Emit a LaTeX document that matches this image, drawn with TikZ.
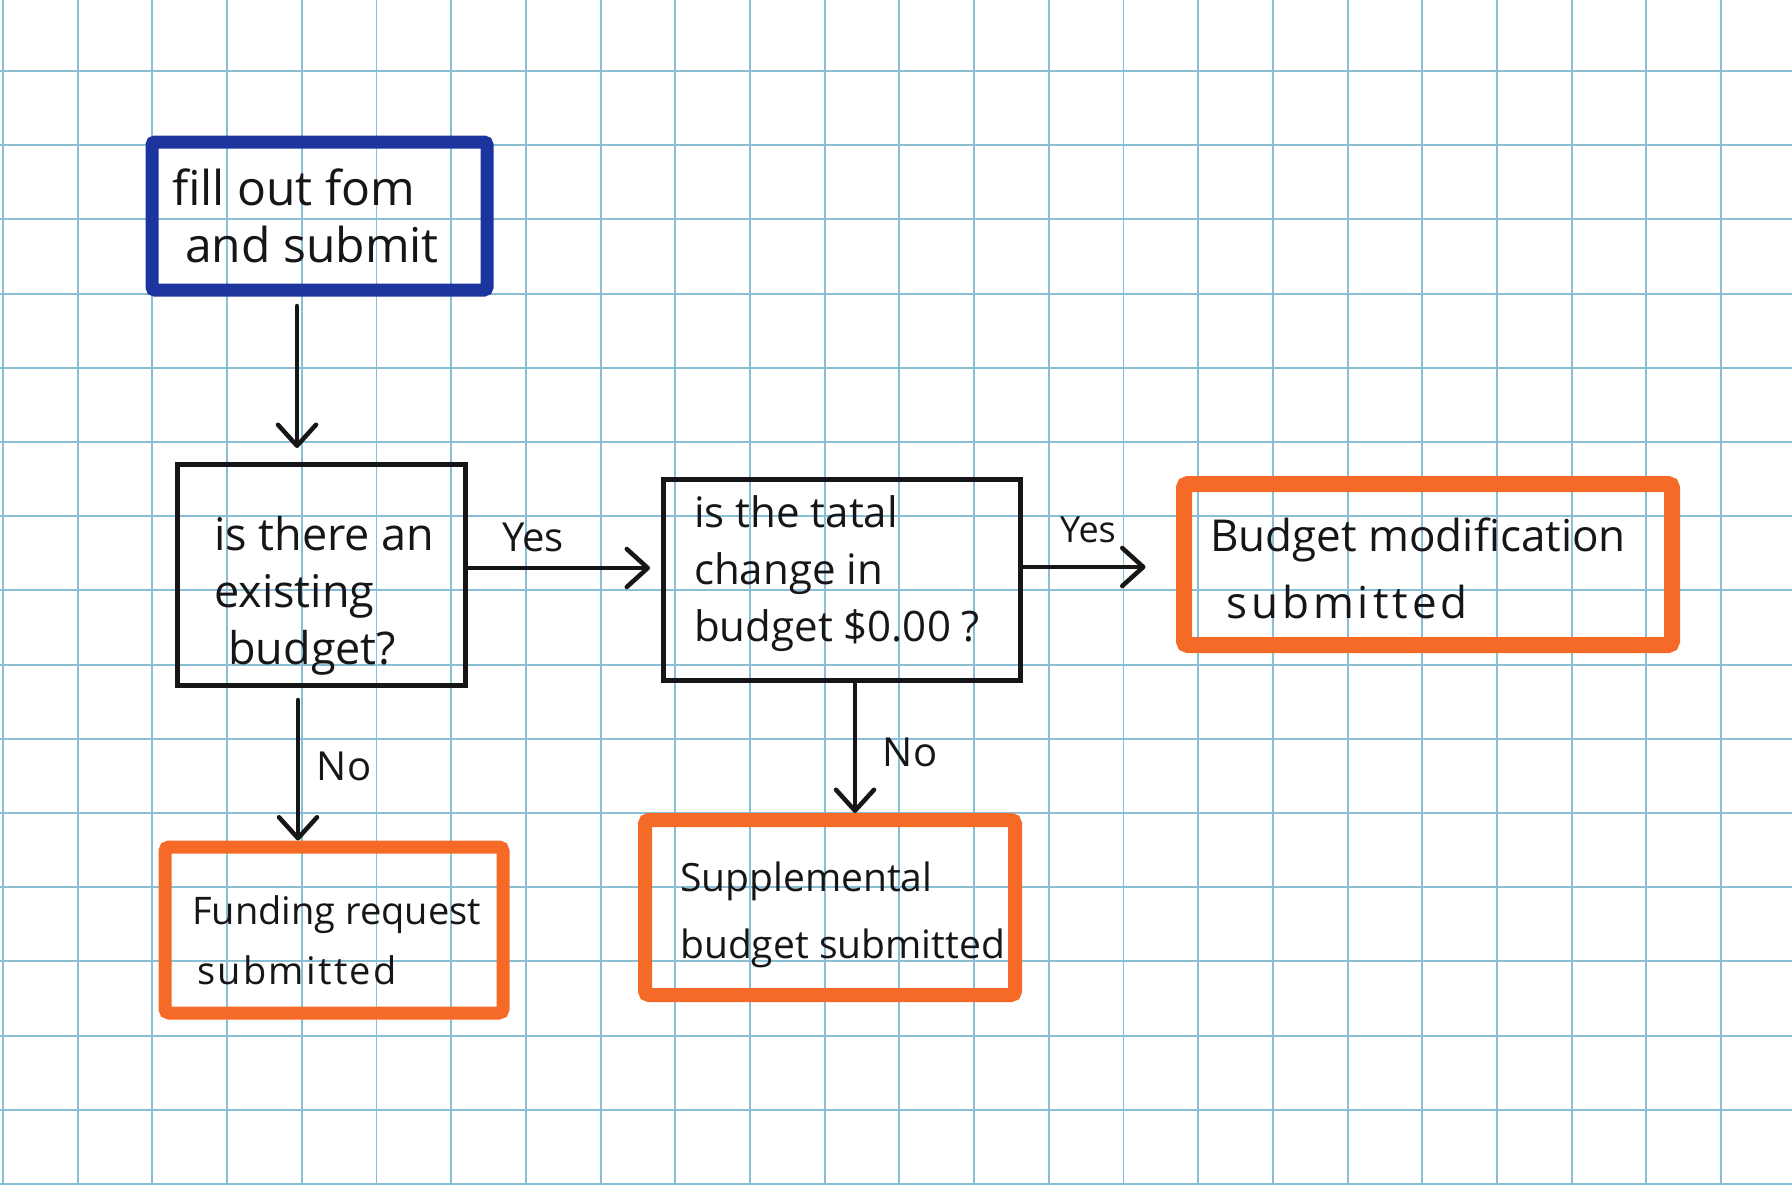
\documentclass[tikz,border=0pt]{standalone}
\usepackage{fontspec}
\setmainfont{Open Sans}
\usetikzlibrary{arrows.meta,calc}
\definecolor{gridblue}{RGB}{136,190,214}
\definecolor{inkblue}{RGB}{28,52,158}
\definecolor{marker}{RGB}{246,106,40}
\definecolor{ink}{RGB}{22,22,22}
\begin{document}
\begin{tikzpicture}[x=1pt,y=-1pt,
  gridline/.style={draw=gridblue,line width=1.9pt},
  startbox/.style={draw=inkblue,line width=13pt,rounded corners=3pt,inner sep=0pt},
  askbox/.style={draw=ink,line width=5pt,inner sep=0pt},
  endbox/.style={draw=marker,line width=14pt,rounded corners=4pt,inner sep=0pt},
  handtext/.style={text=ink,anchor=west,align=left,inner sep=0pt},
  cond/.style={text=ink,inner sep=0pt,font=\fontsize{40}{44}\selectfont},
  flow/.style={draw=ink,line width=4.5pt,line cap=round,
    -{Straight Barb[length=21pt,width=38pt,line cap=round,line join=round]}}
]
\useasboundingbox (0,0) rectangle (1792,1184);
\fill[white] (0,0) rectangle (1792,1184);

% graph paper
\foreach \i in {0,...,23} \draw[gridline] ({3+74.7*\i},0) -- ({3+74.7*\i},1184);
\foreach \j in {0,...,15} \draw[gridline] (0,{71+74.2*\j}) -- (1792,{71+74.2*\j});

% boxes
\node[startbox,minimum width=335pt,minimum height=148pt] (form) at (319.5,216) {};
\node[askbox,minimum width=288pt,minimum height=221pt] (exist) at (321,574.5) {};
\node[askbox,minimum width=357pt,minimum height=201pt] (total) at (841.5,579.5) {};
\node[endbox,line width=16pt,minimum width=488pt,minimum height=161pt] (budmod) at (1428,564.5) {};
\node[endbox,line width=13pt,minimum width=338pt,minimum height=166pt] (fund) at (334,930) {};
\node[endbox,minimum width=370pt,minimum height=175pt] (supp) at (830,907.5) {};

% box texts
\node[handtext,font=\fontsize{48}{57}\selectfont] (formtxt) at (172,216)
  {fill out fom\\\hspace*{13pt}and submit};
\node[handtext,font=\fontsize{45}{57}\selectfont] (existtxt) at (214,596)
  {is there an\\existing\\\hspace*{14pt}budget?};
\node[handtext,font=\fontsize{42}{57}\selectfont] (totaltxt) at (694,574)
  {is the tatal\\change in\\budget \$0.00 ?};
\node[handtext,font=\fontsize{44}{67}\selectfont] (budmodtxt) at (1210,568)
  {Budget modification\\\hspace*{16pt}{\addfontfeature{LetterSpace=9}submitted}};
\node[handtext,font=\fontsize{38}{60}\selectfont] (fundtxt) at (192,940)
  {Funding request\\\hspace*{5pt}{\addfontfeature{LetterSpace=6}submitted}};
\node[handtext,font=\fontsize{39}{67}\selectfont] (supptxt) at (680,915)
  {Supplemental\\budget submitted};

% connectors
\coordinate (formout) at ([xshift=-22.5pt]form.south);
\draw[flow,shorten <=9.5pt,shorten >=13.5pt] (formout) -- (formout |- exist.north);

\coordinate (yesA) at ([yshift=6.5pt]exist.east);
\draw[flow,shorten >=10.5pt] (yesA) -- (yesA -| total.west);
\node[cond] (yes1) at (533,537) {Yes};

\coordinate (yesB) at ([yshift=12.5pt]total.east);
\draw[flow,shorten >=30.5pt] (yesB) -- (yesB -| budmod.west);
\node[cond,font=\fontsize{36}{40}\selectfont] (yes2) at (1088,530) {Yes};

\coordinate (noA) at ([xshift=-23pt]exist.south);
\draw[flow,shorten <=12.5pt] (noA) -- (noA |- fund.north);
\node[cond] (no1) at (344,766) {No};

\coordinate (noB) at ([xshift=13.5pt]total.south);
\draw[flow] (noB) -- (noB |- supp.north);
\node[cond] (no2) at (910,752) {No};
\end{tikzpicture}
\end{document}
